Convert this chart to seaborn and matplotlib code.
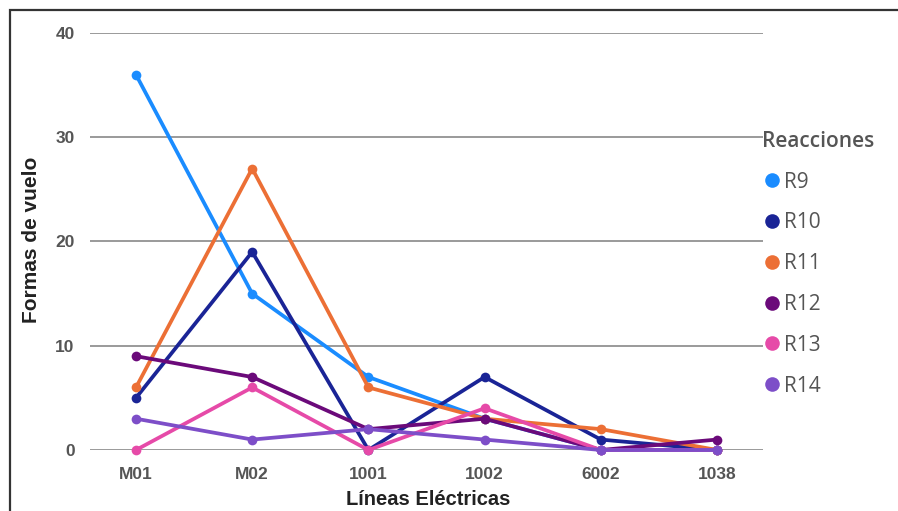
import pandas as pd
import seaborn as sns
import matplotlib.pyplot as plt
from matplotlib.lines import Line2D
from matplotlib.patches import Rectangle

# datos
lineas = ["M01", "M02", "1001", "1002", "6002", "1038"]
reacciones = ["R9", "R10", "R11", "R12", "R13", "R14"]
r9 = [36, 15, 7, 3, 0, 0]
r10 = [5, 19, 0, 7, 1, 0]
r11 = [6, 27, 6, 3, 2, 0]
r12 = [9, 7, 2, 3, 0, 1]
r13 = [0, 6, 0, 4, 0, 0]
r14 = [3, 1, 2, 1, 0, 0]
colores = ["#1a8cff", "#1a2496", "#ec6f35", "#6b0a7a", "#e64aa8", "#7d4ec8"]

valores = [r9, r10, r11, r12, r13, r14]
df = pd.DataFrame({
    "linea": lineas * len(reacciones),
    "reaccion": [r for r in reacciones for _ in lineas],
    "valor": [v for serie in valores for v in serie],
})

sns.set_style("white")
plt.rcParams["font.family"] = ["Liberation Sans", "DejaVu Sans"]

fig = plt.figure(figsize=(8.98, 5.11), dpi=100)
ax = fig.add_axes([0.1002, 0.1194, 0.7495, 0.816])

sns.lineplot(data=df, x="linea", y="valor", hue="reaccion", palette=colores,
             marker="o", markersize=7, markeredgewidth=0, linewidth=2.7,
             sort=False, legend=False, ax=ax)
for ln in ax.lines:
    ln.set_clip_on(False)

ax.set_ylim(0, 40)
ax.set_xlim(-0.396, 5.396)
ax.set_yticks([0, 10, 20, 30, 40])
ax.yaxis.grid(True, color="#9a9a9a", linewidth=1.4)
ax.set_axisbelow(True)
for s in ax.spines.values():
    s.set_visible(False)
ax.tick_params(axis="both", length=0, labelsize=12.5, labelcolor="#555555")
ax.tick_params(axis="y", pad=11)
ax.tick_params(axis="x", pad=12)
for t in ax.get_xticklabels() + ax.get_yticklabels():
    t.set_fontweight("bold")

ax.set_xlabel("Líneas Eléctricas", fontsize=14.5, fontweight="bold", color="#222222")
ax.set_ylabel("Formas de vuelo", fontsize=15, fontweight="bold", color="#222222")
ax.xaxis.set_label_coords(0.503, -0.095)
ax.yaxis.set_label_coords(-0.073, 0.505)

handles = [Line2D([], [], linestyle="none", marker="o", markersize=10.5,
                  markeredgewidth=0, color=c) for c in colores]
leg = fig.legend(handles, reacciones, title="Reacciones", loc="upper left",
                 bbox_to_anchor=(0.849, 0.744), frameon=False,
                 prop={"family": "Open Sans", "size": 15},
                 labelspacing=0.95, handletextpad=0.15, handlelength=0.9,
                 borderaxespad=0, borderpad=0)
leg.get_title().set_fontfamily("Open Sans")
leg.get_title().set_fontsize(15)
leg.get_title().set_fontweight("semibold")
leg.get_title().set_color("#555555")
leg._legend_box.align = "left"
for t in leg.get_texts():
    t.set_color("#555555")

# marco exterior
fig.patches.append(Rectangle((0.0111, -0.1), 1.2, 1.08, transform=fig.transFigure,
                             fill=False, edgecolor="#333333", linewidth=1.6))

fig.savefig("out.png", dpi=100)
